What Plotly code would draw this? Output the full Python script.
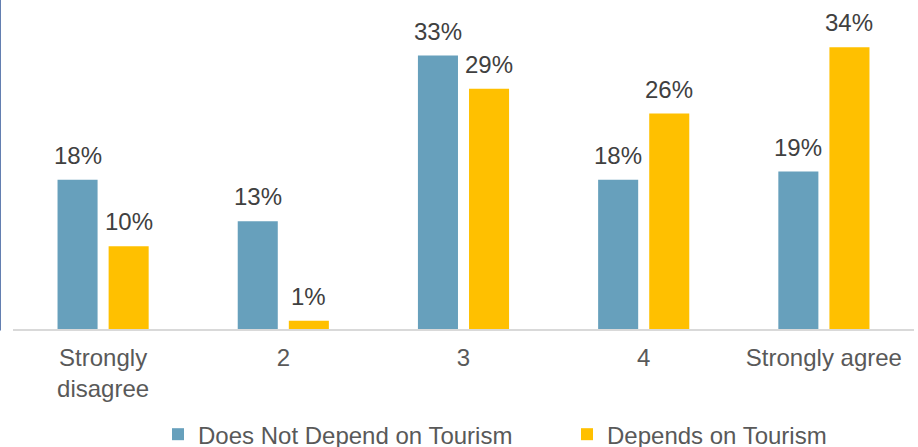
import plotly.graph_objects as go

categories = ["Strongly<br>disagree", "2", "3", "4", "Strongly agree"]
not_depend = [18, 13, 33, 18, 19]
depends = [10, 1, 29, 26, 34]

series_names = ["Does Not Depend on Tourism", "Depends on Tourism"]
colors = ["#67A0BC", "#FFC000"]

font_family = "Liberation Sans, Arial, sans-serif"
W, H = 918, 447
margin = dict(l=13, r=4, t=10, b=118)
bargap, bargroupgap = 0.433, 0.216

fig = go.Figure()
for name, vals, col in zip(series_names, [not_depend, depends], colors):
    fig.add_trace(go.Bar(
        x=categories,
        y=vals,
        name=name,
        marker=dict(color=col, line=dict(width=0)),
        hoverinfo="x+y+name",
    ))

# value labels above each bar, offset to the centre of its slot in the group
plot_w = W - margin["l"] - margin["r"]
cat_w = plot_w / len(categories)
slot_w = (1 - bargap) * cat_w / 2
for i, vals in enumerate([not_depend, depends]):
    shift = (i - 0.5) * slot_w
    for j, v in enumerate(vals):
        fig.add_annotation(
            x=j, y=v, xref="x", yref="y",
            text=f"{v}%", showarrow=False,
            xanchor="center", yanchor="bottom",
            xshift=shift, yshift=9,
            font=dict(size=24, color="#404040", family=font_family),
        )

fig.update_layout(
    width=W,
    height=H,
    margin=dict(**margin, autoexpand=False),
    paper_bgcolor="white",
    plot_bgcolor="white",
    barmode="group",
    bargap=bargap,
    bargroupgap=bargroupgap,
    font=dict(family=font_family, size=24, color="#595959"),
    showlegend=True,
    legend=dict(
        orientation="h",
        x=(158 - margin["l"]) / plot_w,
        xanchor="left",
        y=-0.331,
        yanchor="middle",
        entrywidth=364,
        entrywidthmode="pixels",
        font=dict(size=24, color="#595959"),
        traceorder="normal",
    ),
)

fig.update_xaxes(
    type="category",
    showline=True,
    linecolor="#D9D9D9",
    linewidth=2,
    ticks="",
    showgrid=False,
    ticklabelstandoff=6,
    tickfont=dict(size=24, color="#595959"),
)
fig.update_yaxes(
    range=[0, 38.5],
    visible=False,
    showgrid=False,
    zeroline=False,
)

# thin blue border on the left edge
fig.add_shape(
    type="line", xref="paper", yref="paper",
    x0=-13 / plot_w, x1=-13 / plot_w, y0=-0.005, y1=1.04,
    line=dict(color="#2F5597", width=1.5),
)

fig.write_html("out.html")
